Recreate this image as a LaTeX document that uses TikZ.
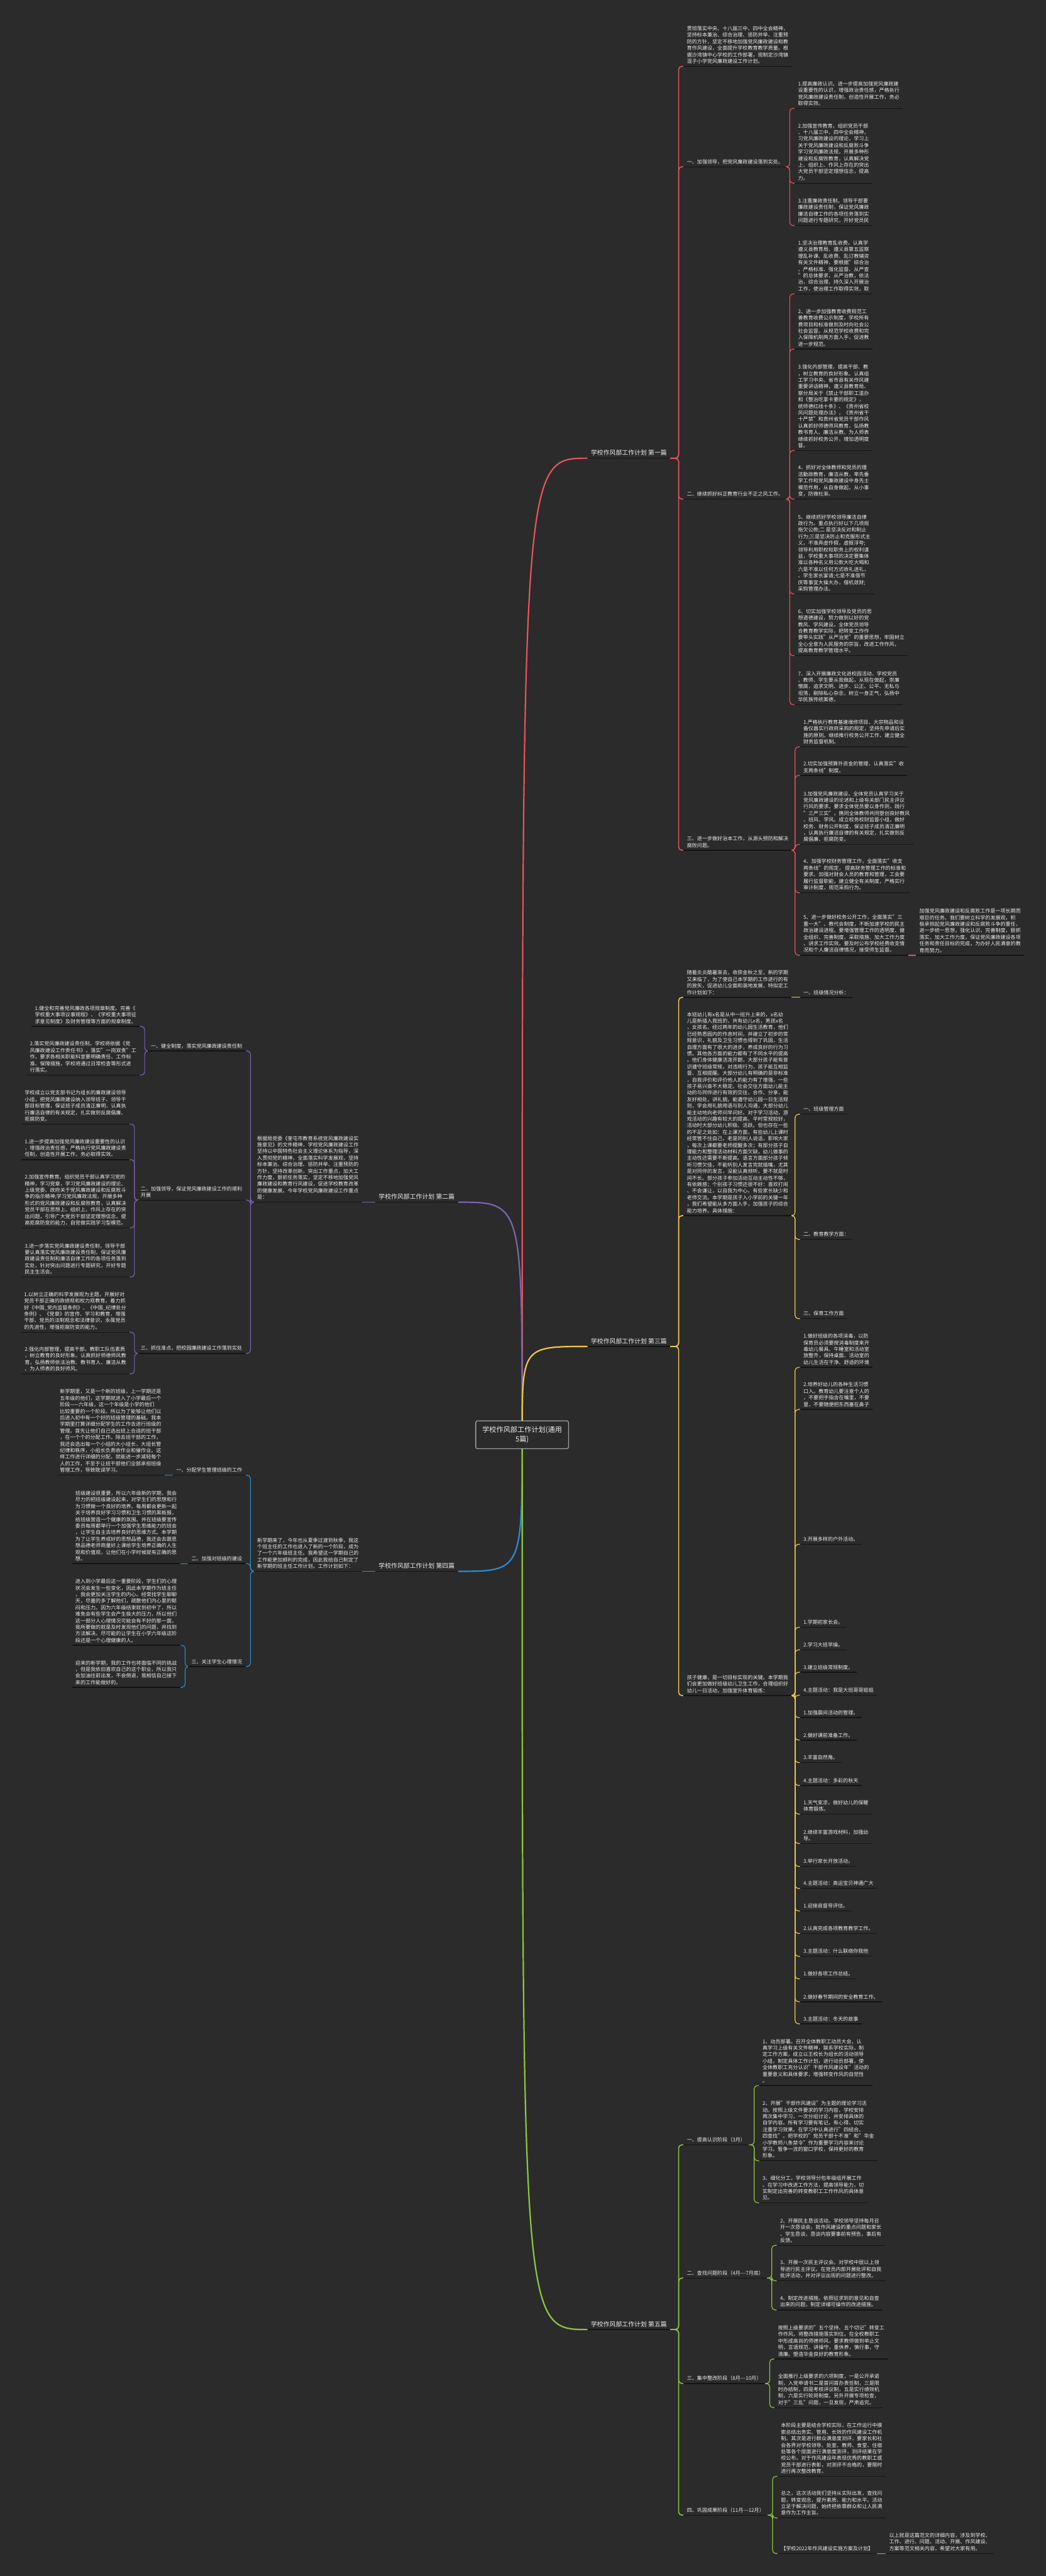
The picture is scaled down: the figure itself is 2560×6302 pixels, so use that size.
\documentclass[tikz,border=0pt]{standalone}
\usepackage{fontspec}
\setmainfont{Noto Sans CJK SC}
\usetikzlibrary{calc}

\definecolor{bgc}{HTML}{2B2B2B}
\definecolor{ink}{HTML}{EDEDED}
\definecolor{ulc}{HTML}{141414}
\definecolor{redl}{HTML}{E5535D}
\definecolor{purl}{HTML}{7C62B5}
\definecolor{yell}{HTML}{F3C744}
\definecolor{blul}{HTML}{2D8CCF}
\definecolor{grnl}{HTML}{8CC63F}

\newcommand\fsn{\fontsize{6.2pt}{8pt}\selectfont}
\newcommand\fsl{\fontsize{7.6pt}{9pt}\selectfont}
\newcommand\fsr{\fontsize{8.6pt}{11pt}\selectfont}

\pgfdeclarelayer{back}
\pgfdeclarelayer{wires}
\pgfsetlayers{back,wires,main}

\tikzset{
  uline/.style={draw=ulc, line width=1pt},
  base/.style={font=\fsn, text=ink, align=left, inner xsep=4pt, inner ysep=3pt,
    append after command={(\tikzlastnode.south west) edge[uline] (\tikzlastnode.south east)}},
  rnode/.style={base, anchor=south west},
  lnode/.style={base, anchor=south east},
  branchlab/.style={font=\fsl},
  rootbox/.style={draw=gray!75, line width=1pt, fill=bgc, text=ink, font=\fsr,
    align=center, inner xsep=8pt, inner ysep=7pt, rounded corners=2pt},
  conn/.style={line width=0.9pt, rounded corners=4pt},
  mainconn/.style={line width=1.2pt, rounded corners=4pt},
  trunk/.style={line width=1.7pt},
}

\begin{document}
\begin{tikzpicture}[x=0.5pt, y=-0.5pt]
\begin{pgfonlayer}{back}
\fill[bgc] (0,0) rectangle (2560,6302);
\end{pgfonlayer}
\useasboundingbox (0,0) rectangle (2560,6302);

% root and the five branch titles
\node[rootbox] (root) at (1278,3510) {学校作风部工作计划(通用\\5篇)};
\node[rnode, branchlab] (b1) at (1438,1121) {学校作风部工作计划 第一篇};
\node[lnode, branchlab] (b2) at (1121,2941) {学校作风部工作计划 第二篇};
\node[rnode, branchlab] (b3) at (1438,3294) {学校作风部工作计划 第三篇};
\node[lnode, branchlab] (b4) at (1121,3844) {学校作风部工作计划 第四篇};
\node[rnode, branchlab] (b5) at (1438,5699) {学校作风部工作计划 第五篇};

% ---- 第一篇
\node[rnode] (b1a) at (1673,162) {贯彻落实中央、十八届三中、四中全会精神，\\坚持标本兼治、综合治理、惩防并举、注重预\\防的方针，坚定不移地加强党风廉政建设和教\\育作风建设，全面提升学校教育教学质量。根\\据沙湾镇中心学校的工作部署，现制定沙湾镇\\混子小学党风廉政建设工作计划。};
\node[rnode] (b1b) at (1673,408) {一、加强领导，把党风廉政建设落到实处。};
\node[rnode] (b1c) at (1673,1221) {二、继续抓好纠正教育行业不正之风工作。};
\node[rnode] (b1d) at (1673,2080) {三、进一步做好治本工作，从源头预防和解决\\腐败问题。};

\node[rnode] (b1b1) at (1945,265) {1.提高廉政认识。进一步提高加强党风廉政建\\设重要性的认识，增强政治责任感，严格执行\\党风廉政建设责任制，创造性开展工作，务必\\取得实效。};
\node[rnode] (b1b2) at (1945,448) {2.加强宣传教育。组织党员干部\\、十八届三中、四中全会精神，\\习党风廉政建设的理论，学习上\\关于党风廉政建设和反腐败斗争\\学习党风廉政法规，开展多种形\\建设和反腐败教育，认真解决党\\上、组织上、作风上存在的突出\\大党员干部坚定理想信念，提高\\力。};
\node[rnode] (b1b3) at (1945,552) {3.注重廉政责任制。领导干部要\\廉政建设责任制，保证党风廉政\\廉洁自律工作的各项任务落到实\\问题进行专题研究，开好党员民};

\node[rnode] (b1c1) at (1945,719) {1.坚决治理教育乱收费。认真学\\遵义县教育局、遵义县第五监察\\理乱补课、乱收费、乱订教辅资\\有关文件精神，要根据"综合治\\、严格标准、强化监督、从严查\\"的总体要求，从严治教，依法\\治，综合治理，持久深入开展治\\工作，使治理工作取得实效，取};
\node[rnode] (b1c2) at (1945,854) {2、进一步加强教育收费规范工\\善教育收费公示制度，学校所有\\费项目和标准做到及时向社会公\\社会监督。从规范学校收费和完\\入保障机制两方面入手，促进教\\进一步规范。};
\node[rnode] (b1c3) at (1945,1102) {3.强化内部管理，提高干部、教\\，树立教育的良好形象。认真组\\工学习中央、省市县有关作风建\\重要讲话精神，遵义县教育局、\\察分局关于《禁止干部职工滥办\\和《整治吃拿卡要的规定》，\\统师德红线十条》、《贵州省校\\风问题处理办法》，《贵州省干\\十严禁"和贵州省党员干部作风\\认真抓好师德师风教育，弘扬教\\教书育人、廉洁从教、为人师表\\继续抓好校务公开，增加透明度\\督。};
\node[rnode] (b1c4) at (1945,1221) {4、抓好对全体教师和党员的理\\洁勤政教育，廉洁从教，率先垂\\学工作和党风廉政建设中身先士\\模范作用，从自身做起，从小事\\变，防微杜渐。};
\node[rnode] (b1c5) at (1945,1453) {5、继续抓好学校领导廉洁自律\\政行为。重点执行好以下几项规\\拖欠公款;二 是坚决反对和制止\\行为;三是坚决防止和克服形式主\\义，不准弄虚作假，虚报浮夸;\\领导利用职权和职务上的权利谋\\益，学校重大事项的决定要集体\\准以各种名义用公款大吃大喝和\\六是不准以任何方式收礼送礼，\\、学生家长宴请;七是不准借节\\庆等事宜大操大办，借机敛财;\\采购管理办法。};
\node[rnode] (b1c6) at (1945,1604) {6、切实加强学校领导及党员的思\\想道德建设，努力做到以好的党\\教风、学风建设。全体党员领导\\合教育教学实际，把转变工作作\\要带头实践"从严治党"的重要思想，牢固树立\\全心全意为人民服务的宗旨，改进工作作风，\\提高教育教学管理水平。};
\node[rnode] (b1c7) at (1945,1724) {7、深入开展廉政文化进校园活动，学校党员\\、教师、学生要从我做起，从现在做起，崇廉\\憎腐，追求文明、进步、公正、公平、无私与\\坦荡，剔除私心杂念，树立一身正气，弘扬中\\华民族传统美德。};

\node[rnode] (b1d1) at (1958,1827) {1.严格执行教育基建维修项目、大宗物品和设\\备仪器实行政府采购的规定，坚持先申请后实\\施的原则。继续推行校务公开工作，建立健全\\财务监督机制。};
\node[rnode] (b1d2) at (1958,1897) {2.切实加强预算外资金的管理，认真落实"收\\支两条线"制度。};
\node[rnode] (b1d3) at (1958,2066) {3.加强党风廉政建设。全体党员认真学习关于\\党风廉政建设的论述和上级有关部门民主评议\\行风的要求。要求全体党员要以身作则，践行\\"三严三实"，携同全体教师共同塑创良好教风\\、班风、学风。成立校务校财监督小组，做好\\校务、财务公开制度，保证班子成员清正廉明\\，认真执行廉洁自律的有关规定，扎实做到反\\腐倡廉、拒腐防变。};
\node[rnode] (b1d4) at (1958,2184) {4、加强学校财务管理工作，全面落实"收支\\两条线"的规定， 提高财务管理工作的标准和\\要求。加强对财会人员的教育和管理，工会要\\履行监督职能，建立健全有关制度，严格实行\\审计制度，规范采购行为。};
\node[rnode] (b1d5) at (1958,2337) {5、进一步做好校务公开工作，全面落实"三\\重一大"、教代会制度，不断加速学校的民主\\政治建设进程。要增强管理工作的透明度、健\\全组织、完善制度、采取措施、加大工作力度\\、讲求工作实效。要及时公布学校经费收支情\\况和个人廉洁自律情况，接受师生监督。};
\node[rnode] (b1e) at (2242,2337) {加强党风廉政建设和反腐败工作是一项长期而\\艰巨的任务。我们要树立科学的发展观，积\\极承担起党风廉政建设和反腐败斗争的重任，\\进一步统一思想，强化认识，完善制度，狠抓\\落实，加大工作力度，保证党风廉政建设各项\\任务和责任目标的完成，为办好人民满意的教\\育而努力。};

% ---- 第二篇
\node[lnode] (b2a) at (886,2941) {根据局党委《奎屯市教育系统党风廉政建设实\\施意见》的文件精神，学校党风廉政建设工作\\坚持以中国特色社会主义理论体系为指导，深\\入贯彻党的精神，全面落实科学发展观，坚持\\标本兼治、综合治理、惩防并举、注重预防的\\方针，坚持改革创新，突出工作重点，加大工\\作力度，狠抓任务落实，坚定不移地加强党风\\廉政建设和教育行风建设，促进学校教育改革\\的健康发展。今年学校党风廉政建设工作重点\\是：};
\node[lnode] (b2b1) at (601,2571) {一、健全制度，落实党风廉政建设责任制};
\node[lnode] (b2b2) at (601,2936) {二、加强领导，保证党风廉政建设工作的顺利\\开展};
\node[lnode] (b2b3) at (601,3311) {三、抓住准点，把校园廉政建设工作落到实处};
\node[lnode] (b2c1) at (342,2511) {1.健全和完善党风廉政各项规章制度。完善《\\学校重大事项议事规程》、《学校重大事项征\\求意见制度》及财务管理等方面的规章制度。};
\node[lnode] (b2c2) at (342,2630) {2.落实党风廉政建设责任制。学校将依据《党\\风廉政建设工作责任书》，落实"一岗双责"工\\作，要求各相关职能科室要明确责任、工作标\\准、保障措施，学校将通过日常检查等形式进\\行落实。};
\node[lnode] (b2d1) at (317,2750) {学校成立以党支部书记为组长的廉政建设领导\\小组，把党风廉政建设纳入领导班子、领导干\\部目标管理，保证班子成员清正廉明，认真执\\行廉洁自律的有关规定，扎实做到反腐倡廉、\\拒腐防变。};
\node[lnode] (b2d2) at (317,2837) {1.进一步提高加强党风廉政建设重要性的认识\\，增强政治责任感，严格执行党风廉政建设责\\任制，创造性开展工作，务必取得实效。};
\node[lnode] (b2d3) at (317,3004) {2.加强宣传教育。组织党员干部认真学习党的\\精神，学习党章，学习党风廉政建设的理论、\\上级党委、政府关于党风廉政建设和反腐败斗\\争的指示精神;学习党风廉政法规，开展多种\\形式的党风廉政建设和反腐败教育，认真解决\\党员干部在思想上、组织上、作风上存在的突\\出问题，引导广大党员干部坚定理想信念，提\\高拒腐防变的能力，自觉做实践学习型模范。};
\node[lnode] (b2d4) at (317,3124) {3.进一步落实党风廉政建设责任制，领导干部\\要认真落实党风廉政建设责任制，保证党风廉\\政建设责任制和廉洁自律工作的各项任务落到\\实处，针对突出问题进行专题研究，开好专题\\民主生活会。};
\node[lnode] (b2e1) at (317,3259) {1.以树立正确的科学发展观为主题，开展好对\\党员干部正确的政绩观和权力观教育。着力抓\\好《中国\_党内监督条例》、《中国\_纪律处分\\条例》、《党章》的宣传、学习和教育，增强\\干部、党员的法制观念和法律意识，永葆党员\\的先进性，增强拒腐防变的能力。};
\node[lnode] (b2e2) at (317,3361) {2.强化内部管理，提高干部、教职工队伍素质\\，树立教育的良好形象。认真抓好师德师风教\\育，弘扬教师依法治教、教书育人、廉洁从教\\、为人师表的良好师风。};

% ---- 第三篇
\node[rnode] (b3a) at (1673,2440) {随着炎炎酷暑渐去，收获金秋之至，新的学期\\又来临了，为了使自己本学期的工作进行的有\\的放矢，促进幼儿全面和谐地发展，特拟定工\\作计划如下：};
\node[rnode] (b3a1) at (1958,2440) {一、班级情况分析：};
\node[rnode] (b3b) at (1673,2974) {本班幼儿有x名是从中一班升上来的，x名幼\\儿是新插入我班的，共有幼儿x名，男孩x名\\，女孩名。经过两年的幼儿园生活教育，他们\\已经熟悉园内的作息时间，并建立了初步的常\\规意识，礼貌及卫生习惯也得到了巩固，生活\\自理方面有了很大的进步，养成良好的行为习\\惯。其他各方面的能力都有了不同水平的提高\\。他们身体健康活泼开朗，大部分孩子能有意\\识遵守班级常规，对违规行为，孩子能互相监\\督、互相提醒。大部分幼儿有明确的是非标准\\，自我评价和评价他人的能力有了增强，一些\\孩子易兴奋不大稳定。社会交往方面幼儿能主\\动的与同伴进行有效的交往、合作、分享，能\\友好相处，讲礼貌。能遵守幼儿园一日生活规\\则，学会用礼貌用语与别人沟通，大部分幼儿\\能主动地向老师问早问好。对于学习活动，游\\戏活动的兴趣有较大的提高。平时常规较好，\\活动时大部分幼儿积极、活跃。但也存在一些\\的不足之处如：在上课方面，有些幼儿上课时\\经常管不住自己，老是同别人说话，影响大家\\，每次上课都要老师提醒多次；有部分孩子自\\理能力和整理活动材料方面欠缺，幼儿做事的\\主动性还需要不断提高。语言方面部分孩子倾\\听习惯欠佳，不能听别人发言完就插嘴，尤其\\是对同伴的发言，没能认真倾听，要不就是时\\间不长。部分孩子参加活动互动主动性不够，\\有依赖感；个别孩子习惯还很不好：喜欢打闹\\、不会谦让，以自我为中心。有些家长缺少和\\老师交流。本学期是孩子入小学前的关键一年\\，我们希望能从多方面入手，加强孩子的综合\\能力培养。具体措施：};
\node[rnode] (b3b1) at (1958,2726) {一、班级管理方面};
\node[rnode] (b3b2) at (1958,3032) {二、教育教学方面：};
\node[rnode] (b3b3) at (1958,3226) {三、保育工作方面};
\node[rnode] (b3c) at (1673,4148) {孩子健康，是一切目标实现的关键。本学期我\\们会更加做好班级幼儿卫生工作，合理组织好\\幼儿一日活动，加强室外体育锻炼：};
\node[rnode] (c1) at (1958,3345) {1.做好班级的各项消毒，以防\\保育员必须要按消毒制度来开\\毒幼儿餐具、午睡室和活动室\\放整齐，保持桌面、活动室的\\幼儿生活在干净、舒适的环境};
\node[rnode] (c2) at (1958,3448) {2.培养好幼儿的各种生活习惯\\口入。教育幼儿要注意个人的\\，不要把手指含在嘴里，不要\\里，不要随便把东西塞在鼻子};
\node[rnode] (c3) at (1958,3778) {3.开展多样的户外活动。};
\node[rnode] (c4) at (1958,3981) {1.学期初家长会。};
\node[rnode] (c5) at (1958,4036) {2.学习大班早操。};
\node[rnode] (c6) at (1958,4091) {3.建立班级常规制度。};
\node[rnode] (c7) at (1958,4147) {4.主题活动：我是大班哥哥姐姐};
\node[rnode] (c8) at (1958,4202) {1.加强晨间活动的管理。};
\node[rnode] (c9) at (1958,4257) {2.做好课前准备工作。};
\node[rnode] (c10) at (1958,4312) {3.丰富自然角。};
\node[rnode] (c11) at (1958,4368) {4.主题活动：多彩的秋天};
\node[rnode] (c12) at (1958,4438) {1.天气变凉，做好幼儿的保暖\\体育锻炼。};
\node[rnode] (c13) at (1958,4510) {2.继续丰富游戏材料，加强幼\\导。};
\node[rnode] (c14) at (1958,4566) {3.举行家长开放活动。};
\node[rnode] (c15) at (1958,4620) {4.主题活动：奥运宝贝神通广大};
\node[rnode] (c16) at (1958,4675) {1.迎接县督导评估。};
\node[rnode] (c17) at (1958,4730) {2.认真完成各项教育教学工作。};
\node[rnode] (c18) at (1958,4786) {3.主题活动：什么联络你我他};
\node[rnode] (c19) at (1958,4841) {1.做好各项工作总结。};
\node[rnode] (c20) at (1958,4897) {2.做好春节期间的安全教育工作。};
\node[rnode] (c21) at (1958,4951) {3.主题活动：冬天的故事};

% ---- 第四篇
\node[lnode] (b4a) at (886,3844) {新学期来了，今年也从夏季过渡到秋季，我这\\个班主任的工作也进入了新的一个阶段，成为\\了一个六年级班主任。我希望这一学期自己的\\工作能更加顺利的完成，因此我给自己制定了\\新学期的班主任工作计划。工作计划如下：};
\node[lnode] (b4b1) at (601,3609) {一、分配学生管理班级的工作};
\node[lnode] (b4b2) at (601,3825) {二、加强对班级的建设};
\node[lnode] (b4b3) at (601,4077) {三、关注学生心理情况};
\node[lnode] (b4c1) at (403,3609) {新学期里，又是一个新的班级，上一学期还是\\五年级的他们，这学期就进入了小学最后一个\\阶段——六年级，这一个年级是小学的他们\\比较重要的一个阶段。所以为了能够让他们以\\后进入初中有一个好的班级管理的基础。我本\\学期里打算详细分配学生的工作去进行班级的\\管理。首先让他们自己选出班上合适的班干部\\，在一个个的分配工作。除去班干部的工作，\\我还会选出每一个小组的大小组长，大组长管\\纪律和秩序，小组长负责收作业和催作业。这\\样工作进行详细的分配，就能进一步减轻每个\\人的工作，不至于让班干部他们全部承担班级\\管理工作，导致耽误学习。};
\node[lnode] (b4d1) at (441,3825) {班级建设很重要，所以六年级新的学期，我会\\尽力的把班级建设起来，对学生们的思想和行\\为习惯做一个良好的培养。每周都会更新一起\\关于培养良好学习习惯和卫生习惯的黑板报，\\给班级营造一个健康的氛围。并在班级要宣传\\委员每周都举行一个加强学生思维能力的班会\\，让学生自主去培养良好的思维方式。本学期\\为了让学生养成好的思想品德，我还会去跟思\\想品德老师商量好上课给学生培养正确的人生\\观和价值观，让他们在小学时候就有正确的思\\想。};
\node[lnode] (b4e1) at (441,4025) {进入到小学最后这一重要阶段，学生们的心理\\状况会发生一些变化，因此本学期作为班主任\\，我会更加关注学生的内心。经常找学生聊聊\\天，尽量的多了解他们，疏散他们内心里的郁\\闷和压力。因为六年级结束就到初中了，所以\\难免会有些学生会产生极大的压力，所以他们\\这一部分人心理情况可能会有不好的那一面，\\我所要做的就是及时发现他们的问题，并找到\\方法解决。尽可能的让学生在小学六年级这阶\\段还是一个心理健康的人。};
\node[lnode] (b4e2) at (441,4128) {迎来的新学期，我的工作也将面临不同的挑战\\，但是我依旧喜欢自己的这个职业，所以我只\\会加油往前出发，不会倒退，我相信自己接下\\来的工作能做好的。};

% ---- 第五篇
\node[rnode] (b5a) at (1673,5247) {一、提高认识阶段（3月）};
\node[rnode] (b5b) at (1673,5573) {二、查找问题阶段（4月-{}-{}-7月底）};
\node[rnode] (b5c) at (1673,5831) {三、集中整改阶段（8月-{}-{}-10月）};
\node[rnode] (b5d) at (1673,6153) {四、巩固成果阶段（11月-{}-{}-12月）};
\node[rnode] (b5a1) at (1858,5102) {1、动员部署。召开全体教职工动员大会，认\\真学习上级有关文件精神，联系学校实际，制\\定工作方案，成立以王校长为组长的活动领导\\小组，制定具体工作计划，进行动员部署，使\\全体教职工充分认识"干部作风建设年"活动的\\重要意义和具体要求，增强转变作风的自觉性\\。};
\node[rnode] (b5a2) at (1858,5286) {2、开展"干部作风建设"为主题的理论学习活\\动。按照上级文件要求的学习内容，学校安排\\两次集中学习，一次分组讨论，并安排具体的\\自学内容。所有学习要有笔记，有心得，切实\\注重学习效果。在学习中认真进行"四结合、\\四查找"。把学校的"党员干部十不准"和"华金\\小学教师八条禁令"作为重要学习内容来讨论\\学习。暂争一流的窗口学校，保持更好的教育\\形象。};
\node[rnode] (b5a3) at (1858,5389) {3、细化分工，学校领导分包年级组开展工作\\。在学习中改进工作方法，提高领导能力，切\\实制定出完善的转变教职工工作作风的具体意\\见。};
\node[rnode] (b5b1) at (1901,5493) {2、开展民主恳谈活动。学校领导坚持每月召\\开一次恳谈会，就作风建设的重点问题和家长\\、学生恳谈，恳谈内容要事前有预告，事后有\\反馈。};
\node[rnode] (b5b2) at (1901,5580) {3、开展一次民主评议会。对学校中层以上领\\导进行民主评议。在党员内部开展批评和自我\\批评活动，并对评议出现的问题进行整改。};
\node[rnode] (b5b3) at (1901,5651) {4、制定改进措施。依照征求到的意见和自查\\出来的问题，制定详细可操作的改进措施。};
\node[rnode] (b5c1) at (1896,5771) {按照上级要求的"五个坚持、五个切记"转变工\\作作风，将整改措施落实到位。在全校教职工\\中形成高尚的师德师风，要求教师做到举止文\\明，言语规范，讲操守，重休养，慎行事，守\\清廉。塑造华金良好的教育形象。};
\node[rnode] (b5c2) at (1896,5890) {全面推行上级要求的六项制度，一是公开承诺\\制，入党申请书二是首问首办责任制，三是限\\时办结制，四是考核评议制，五是实行绩效机\\制，六是实行轮岗制度。另外开展专项检查，\\对于"三乱"问题，一旦发现，严肃追究。};
\node[rnode] (b5d1) at (1903,6058) {本阶段主要是结合学校实际，在工作运行中摸\\索总结出务实、管用、长效的作风建设工作机\\制。其次是进行群众满意度测评，要家长和社\\会各界对学校领导、处室、教师、食堂、住宿\\处等各个层面进行满意度测评，测评结果在学\\校公布。对于作风建设年表现优秀的教职工或\\党员干部进行表彰，对测评不合格的，要限时\\进行再次整改教育。};
\node[rnode] (b5d2) at (1903,6160) {总之，这次活动我们坚持从实际出发，查找问\\题，转变观念，提升素质、能力和水平。活动\\立足于解决问题，始终把依靠群众和让人民满\\意作为工作主旨。};
\node[rnode] (b5d3) at (1903,6247) {【学校2022年作风建设实施方案及计划】};
\node[rnode] (b5e) at (2168,6247) {以上就是这篇范文的详细内容，涉及到学校、\\工作、进行、问题、活动、开展、作风建设、\\方案等范文相关内容，希望对大家有用。};

\begin{pgfonlayer}{wires}
% root to branches
\draw[trunk, redl] (root.center) .. controls (root.center |- b1.south west) .. (b1.south west);
\draw[trunk, purl] (root.center) .. controls (root.center |- b2.south east) .. (b2.south east);
\draw[trunk, yell] (root.center) .. controls (root.center |- b3.south west) .. (b3.south west);
\draw[trunk, blul] (root.center) .. controls (root.center |- b4.south east) .. (b4.south east);
\draw[trunk, grnl] (root.center) .. controls (root.center |- b5.south west) .. (b5.south west);

% 第一篇
\foreach \c in {b1a,b1b,b1c,b1d}
  \draw[mainconn, redl] (\c.south west) -- ++(-12,0) |- (b1.south east);
\foreach \c in {b1b1,b1b2,b1b3}
  \draw[conn, redl] (\c.south west) -- ++(-12,0) |- (b1b.south east);
\foreach \c in {b1c1,b1c2,b1c3,b1c4,b1c5,b1c6,b1c7}
  \draw[conn, redl] (\c.south west) -- ++(-12,0) |- (b1c.south east);
\foreach \c in {b1d1,b1d2,b1d3,b1d4,b1d5}
  \draw[conn, redl] (\c.south west) -- ++(-12,0) |- (b1d.south east);
\draw[conn, redl] (b1d5.south east) -- (b1e.south west);

% 第二篇
\draw[mainconn, purl] (b2.south west) -- (b2a.south east);
\foreach \c in {b2b1,b2b2,b2b3}
  \draw[conn, purl] (\c.south east) -- ++(12,0) |- (b2a.south west);
\foreach \c in {b2c1,b2c2}
  \draw[conn, purl] (\c.south east) -- ++(12,0) |- (b2b1.south west);
\foreach \c in {b2d1,b2d2,b2d3,b2d4}
  \draw[conn, purl] (\c.south east) -- ++(12,0) |- (b2b2.south west);
\foreach \c in {b2e1,b2e2}
  \draw[conn, purl] (\c.south east) -- ++(12,0) |- (b2b3.south west);

% 第三篇
\foreach \c in {b3a,b3b,b3c}
  \draw[mainconn, yell] (\c.south west) -- ++(-12,0) |- (b3.south east);
\draw[conn, yell] (b3a.south east) -- (b3a1.south west);
\foreach \c in {b3b1,b3b2,b3b3}
  \draw[conn, yell] (\c.south west) -- ++(-12,0) |- (b3b.south east);
\foreach \c in {c1,c2,c3,c4,c5,c6,c7,c8,c9,c10,c11,c12,c13,c14,c15,c16,c17,c18,c19,c20,c21}
  \draw[conn, yell] (\c.south west) -- ++(-12,0) |- (b3c.south east);

% 第四篇
\draw[mainconn, blul] (b4.south west) -- (b4a.south east);
\foreach \c in {b4b1,b4b2,b4b3}
  \draw[conn, blul] (\c.south east) -- ++(12,0) |- (b4a.south west);
\draw[conn, blul] (b4c1.south east) -- (b4b1.south west);
\draw[conn, blul] (b4d1.south east) -- (b4b2.south west);
\foreach \c in {b4e1,b4e2}
  \draw[conn, blul] (\c.south east) -- ++(12,0) |- (b4b3.south west);

% 第五篇
\foreach \c in {b5a,b5b,b5c,b5d}
  \draw[mainconn, grnl] (\c.south west) -- ++(-12,0) |- (b5.south east);
\foreach \c in {b5a1,b5a2,b5a3}
  \draw[conn, grnl] (\c.south west) -- ++(-12,0) |- (b5a.south east);
\foreach \c in {b5b1,b5b2,b5b3}
  \draw[conn, grnl] (\c.south west) -- ++(-12,0) |- (b5b.south east);
\foreach \c in {b5c1,b5c2}
  \draw[conn, grnl] (\c.south west) -- ++(-12,0) |- (b5c.south east);
\foreach \c in {b5d1,b5d2,b5d3}
  \draw[conn, grnl] (\c.south west) -- ++(-12,0) |- (b5d.south east);
\draw[conn, grnl] (b5d3.south east) -- (b5e.south west);
\end{pgfonlayer}
\end{tikzpicture}
\end{document}
